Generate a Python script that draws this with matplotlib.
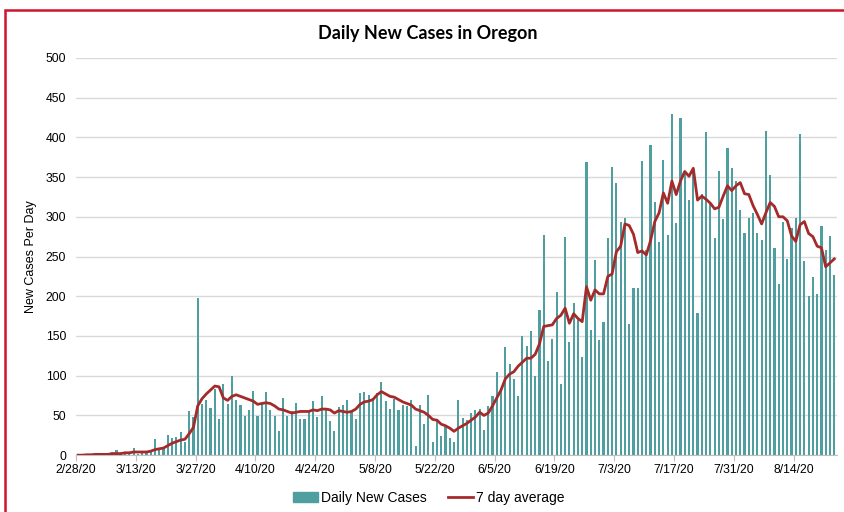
import numpy as np
import pandas as pd
import matplotlib.pyplot as plt
from matplotlib.patches import Rectangle, Patch
from matplotlib.lines import Line2D

# daily new cases, one value per day starting 2/28/20
daily_cases = [
    1, 0, 1, 0, 1, 0, 2, 1, 4, 6,
    1, 2, 4, 9, 2, 3, 4, 6, 20, 6,
    10, 26, 22, 23, 29, 17, 56, 48, 198, 65,
    69, 59, 83, 46, 89, 65, 100, 69, 63, 49,
    57, 81, 49, 66, 80, 57, 49, 30, 72, 49,
    56, 66, 46, 46, 56, 68, 48, 75, 57, 43,
    31, 60, 63, 69, 54, 45, 78, 80, 76, 70,
    78, 92, 68, 58, 71, 57, 63, 62, 70, 11,
    63, 39, 76, 16, 45, 24, 36, 22, 17, 70,
    47, 44, 53, 57, 58, 32, 62, 74, 105, 85,
    136, 115, 96, 75, 150, 137, 156, 100, 183, 277,
    119, 146, 205, 89, 275, 143, 191, 170, 123, 369,
    157, 246, 145, 168, 273, 363, 343, 294, 298, 165,
    210, 211, 370, 258, 390, 318, 268, 371, 277, 429,
    292, 424, 358, 321, 360, 179, 329, 407, 317, 273,
    358, 297, 386, 361, 345, 308, 280, 299, 305, 279,
    271, 408, 353, 261, 216, 294, 247, 286, 299, 404,
    244, 200, 224, 203, 289, 258, 276, 227,
]

# 7 day average as drawn in the chart (same days)
avg_7day = [
    0, 0, 0.5, 0.5, 1, 1, 1, 1, 2, 2,
    2, 3, 3, 4, 4, 4, 4, 5, 7, 8,
    9, 12, 15, 17, 19, 20, 27, 35, 62, 71,
    77, 82, 87, 86, 72, 69, 74, 76, 74, 72,
    70, 68, 64, 65, 66, 65, 62, 58, 57, 55,
    53, 54, 55, 55, 55, 57, 56, 58, 58, 57,
    53, 56, 55, 54, 55, 58, 64, 67, 68, 70,
    76, 80, 77, 74, 73, 70, 67, 65, 63, 58,
    56, 54, 50, 45, 44, 39, 37, 34, 30, 34,
    37, 40, 44, 48, 54, 50, 53, 62, 72, 82,
    96, 102, 105, 112, 117, 122, 122, 127, 140, 162,
    163, 164, 172, 176, 185, 166, 178, 172, 168, 212,
    195, 208, 203, 203, 225, 228, 256, 263, 291, 289,
    278, 255, 257, 252, 270, 294, 305, 330, 317, 345,
    328, 345, 357, 351, 361, 321, 326, 322, 317, 310,
    312, 326, 339, 333, 339, 343, 329, 328, 314, 303,
    291, 305, 318, 313, 300, 300, 295, 276, 269, 290,
    294, 279, 275, 263, 261, 237, 242, 247,
]

start_date = "2020-02-28"
tick_labels = ["2/28/20", "3/13/20", "3/27/20", "4/10/20", "4/24/20", "5/8/20",
               "5/22/20", "6/5/20", "6/19/20", "7/3/20", "7/17/20", "7/31/20", "8/14/20"]

dates = pd.date_range(start_date, periods=len(daily_cases), freq="D")
df = pd.DataFrame({"cases": daily_cases, "avg7": avg_7day}, index=dates)

days = np.arange(len(df))

fig = plt.figure(figsize=(8.44, 5.12), dpi=100)
ax = fig.add_axes([0.090, 0.111, 0.902, 0.776])

ax.bar(days + 0.5, df["cases"], width=0.5, color="#4f9ea0", zorder=2)
ax.plot(days + 0.5, df["avg7"], color="#a52a2a", linewidth=2.0, zorder=3)

ax.set_xlim(0, len(df) + 0.2)
ax.set_ylim(0, 500)
ax.set_yticks(range(0, 501, 50))
ax.set_xticks(np.arange(0, len(df), 14))
ax.set_xticklabels(tick_labels)

ax.grid(axis="y", color="#d9d9d9", linewidth=1.0, zorder=0)
for s in ["top", "right", "left"]:
    ax.spines[s].set_visible(False)
ax.spines["bottom"].set_color("#bfbfbf")
ax.tick_params(axis="x", length=4, color="#bfbfbf", labelsize=8.8, pad=2)
ax.tick_params(axis="y", length=0, labelsize=8.8, pad=7)
for lab in ax.get_xticklabels() + ax.get_yticklabels():
    lab.set_family("Liberation Sans")

ax.set_ylabel("New Cases Per Day", fontsize=9, family="Liberation Sans", labelpad=6)
fig.text(0.507, 0.935, "Daily New Cases in Oregon", ha="center", va="center",
         fontsize=13, fontweight="bold", family="Lato")

handles = [Patch(color="#4f9ea0"), Line2D([0], [0], color="#a52a2a", linewidth=2)]
fig.legend(handles, ["Daily New Cases", "7 day average"], loc="center",
           bbox_to_anchor=(0.508, 0.028), ncol=2, frameon=False,
           prop={"family": "Liberation Sans", "size": 10},
           handlelength=1.8, handletextpad=0.2, columnspacing=1.6)

# red frame around the chart
fig.patches.append(Rectangle((5 / 844, -0.1), 1.2, 1 - 10 / 512 + 0.1, transform=fig.transFigure,
                             fill=False, edgecolor="#d0142c", linewidth=1.8))

fig.savefig("out.png", dpi=100)
